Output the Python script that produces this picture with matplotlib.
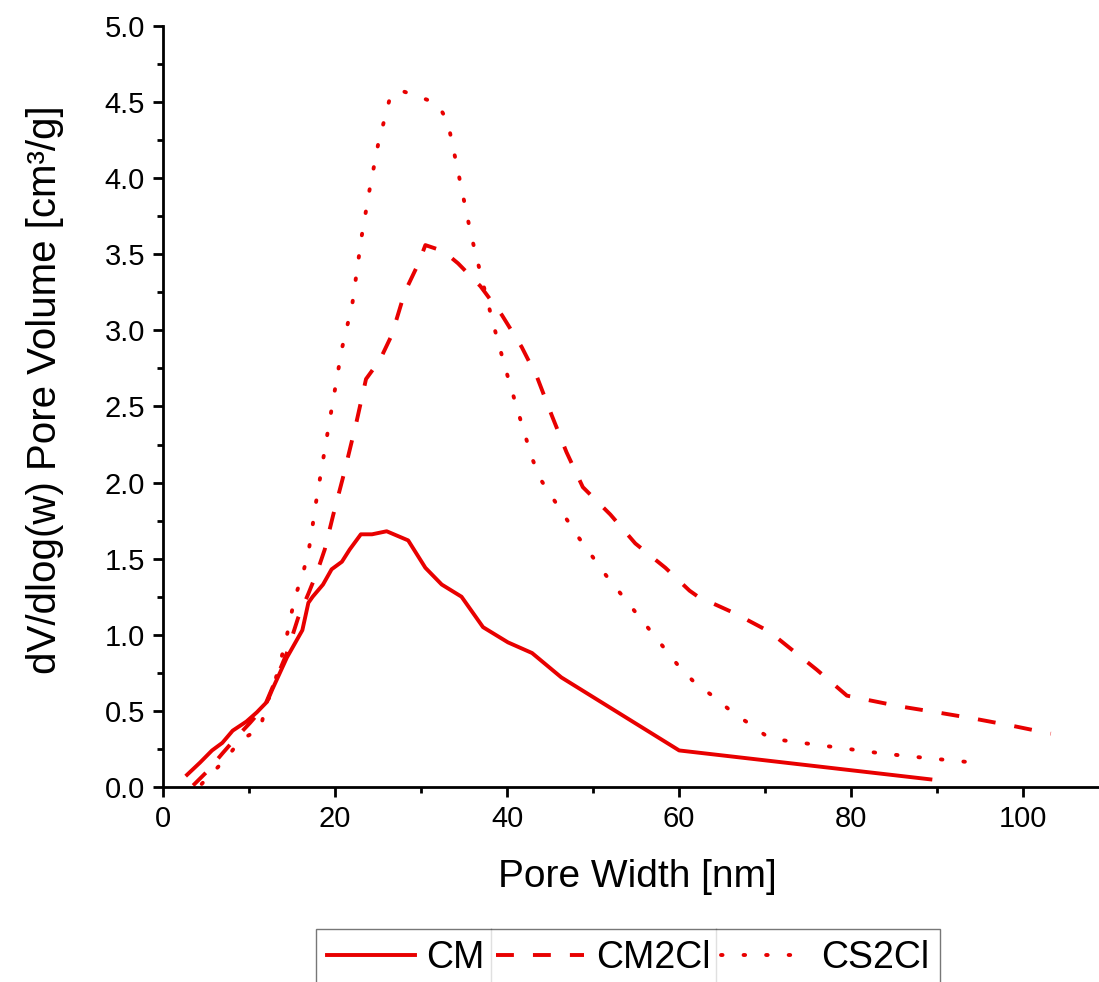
import matplotlib
matplotlib.use("Agg")
import matplotlib.pyplot as plt
from matplotlib.lines import Line2D
from matplotlib.ticker import MultipleLocator

plt.rcParams["font.family"] = ["Liberation Sans", "DejaVu Sans"]

# pore width [nm] / dV/dlog(w) [cm3/g]
cm_x = [2.8, 4.3, 5.7, 6.9, 8.1, 9.7, 10.9, 12.1, 12.7, 14.4, 16.2, 16.9, 17.4,
        18.6, 19.6, 20.8, 21.7, 23.0, 24.3, 26.0, 28.5, 30.5, 32.4, 34.7, 37.2,
        40.1, 42.9, 46.3, 60.0, 89.2]
cm_y = [0.08, 0.16, 0.24, 0.29, 0.37, 0.43, 0.49, 0.56, 0.64, 0.85, 1.03, 1.21,
        1.25, 1.33, 1.43, 1.48, 1.56, 1.66, 1.66, 1.68, 1.62, 1.44, 1.33, 1.25,
        1.05, 0.95, 0.88, 0.72, 0.24, 0.05]

cm2cl_x = [3.5, 5.1, 6.9, 8.6, 10.1, 11.8, 13.0, 14.4, 15.7, 16.9, 17.9, 18.8,
           19.8, 21.0, 22.5, 23.6, 24.5, 25.0, 26.6, 28.1, 29.7, 30.5, 32.6,
           34.3, 36.9, 39.4, 41.7, 43.5, 45.2, 46.9, 48.8, 52.0, 54.9, 58.4,
           61.2, 62.2, 66.5, 70.5, 72.7, 76.0, 79.5, 81.2, 85.6, 90.0, 94.2,
           98.9, 103.2]
cm2cl_y = [0.01, 0.10, 0.22, 0.33, 0.42, 0.53, 0.69, 0.88, 1.11, 1.27, 1.41,
           1.56, 1.79, 2.05, 2.40, 2.68, 2.75, 2.78, 2.97, 3.25, 3.44, 3.56,
           3.52, 3.44, 3.29, 3.10, 2.89, 2.69, 2.44, 2.20, 1.97, 1.79, 1.60,
           1.44, 1.29, 1.25, 1.14, 1.02, 0.92, 0.77, 0.60, 0.58, 0.53, 0.49,
           0.45, 0.40, 0.35]

cs2cl_x = [4.5, 7.4, 9.0, 11.3, 11.9, 13.0, 14.2, 15.3, 16.2, 16.9, 17.3, 17.7,
           19.2, 20.8, 22.0, 23.1, 24.0, 25.0, 26.3, 27.4, 29.5, 31.9, 33.1,
           34.2, 35.8, 37.1, 38.4, 39.8, 41.3, 42.9, 43.9, 45.4, 48.3, 51.5,
           54.9, 58.3, 60.0, 61.9, 64.1, 66.2, 68.3, 70.5, 72.9, 78.3, 83.6,
           88.8, 94.3]
cs2cl_y = [0.02, 0.19, 0.31, 0.38, 0.52, 0.69, 0.94, 1.24, 1.39, 1.54, 1.68,
           1.84, 2.35, 2.88, 3.17, 3.62, 3.92, 4.22, 4.51, 4.58, 4.54, 4.49,
           4.37, 4.07, 3.63, 3.33, 3.04, 2.75, 2.46, 2.16, 2.02, 1.89, 1.64,
           1.39, 1.15, 0.91, 0.79, 0.68, 0.59, 0.49, 0.41, 0.32, 0.30, 0.26,
           0.22, 0.19, 0.16]

series_labels = ["CM", "CM2Cl", "CS2Cl"]
red = "#e80000"

fig = plt.figure(figsize=(10.99, 9.82), dpi=100)
ax = fig.add_axes([0.1483, 0.1986, 0.8517, 0.775])

ax.plot(cm_x, cm_y, color=red, lw=2.8, label=series_labels[0])
ax.plot(cm2cl_x, cm2cl_y, color=red, lw=2.8, dashes=(4.6, 4.9),
        label=series_labels[1])
ax.plot(cs2cl_x, cs2cl_y, color=red, lw=2.8, dashes=(0.4, 5.4),
        dash_capstyle="round", label=series_labels[2])

ax.set_xlim(0, 108.8)
ax.set_ylim(0, 5.0)
ax.xaxis.set_major_locator(MultipleLocator(20))
ax.xaxis.set_minor_locator(MultipleLocator(10))
ax.yaxis.set_major_locator(MultipleLocator(0.5))
ax.yaxis.set_minor_locator(MultipleLocator(0.25))
ax.yaxis.set_major_formatter(lambda v, p: f"{v:.1f}")

for side in ["top", "right"]:
    ax.spines[side].set_visible(False)
for side in ["left", "bottom"]:
    ax.spines[side].set_linewidth(2.0)

ax.tick_params(which="major", direction="out", length=7, width=2.0,
               labelsize=21, pad=6)
ax.tick_params(which="minor", direction="out", length=4, width=2.0)

ax.set_xlabel("Pore Width [nm]", fontsize=28)
ax.set_ylabel("dV/dlog(w) Pore Volume [cm³/g]", fontsize=29)
ax.xaxis.set_label_coords(0.507, -0.095)
ax.yaxis.set_label_coords(-0.106, 0.522)

leg = fig.legend(loc="upper left", bbox_to_anchor=(316 / 1099, 1 - 929 / 982),
                 ncol=3, fontsize=27, frameon=True, fancybox=False,
                 handlelength=2.35, handletextpad=0.3, columnspacing=0.3,
                 borderpad=0.3, borderaxespad=0)
leg.get_frame().set_edgecolor("#555555")
leg.get_frame().set_linewidth(1.0)

# vertical separators between legend columns
fig.canvas.draw()
renderer = fig.canvas.get_renderer()
frame_box = leg.get_frame().get_window_extent(renderer)
texts = leg.get_texts()
gap = 0.3 * 27 * 100 / 72
for t in texts[:-1]:
    x_sep = t.get_window_extent(renderer).x1 + gap / 2
    fx = x_sep / fig.bbox.width
    fig.add_artist(Line2D([fx, fx],
                          [frame_box.y0 / fig.bbox.height, frame_box.y1 / fig.bbox.height],
                          transform=fig.transFigure, color="#666666", lw=1.0))

fig.savefig("out.png", dpi=100)
